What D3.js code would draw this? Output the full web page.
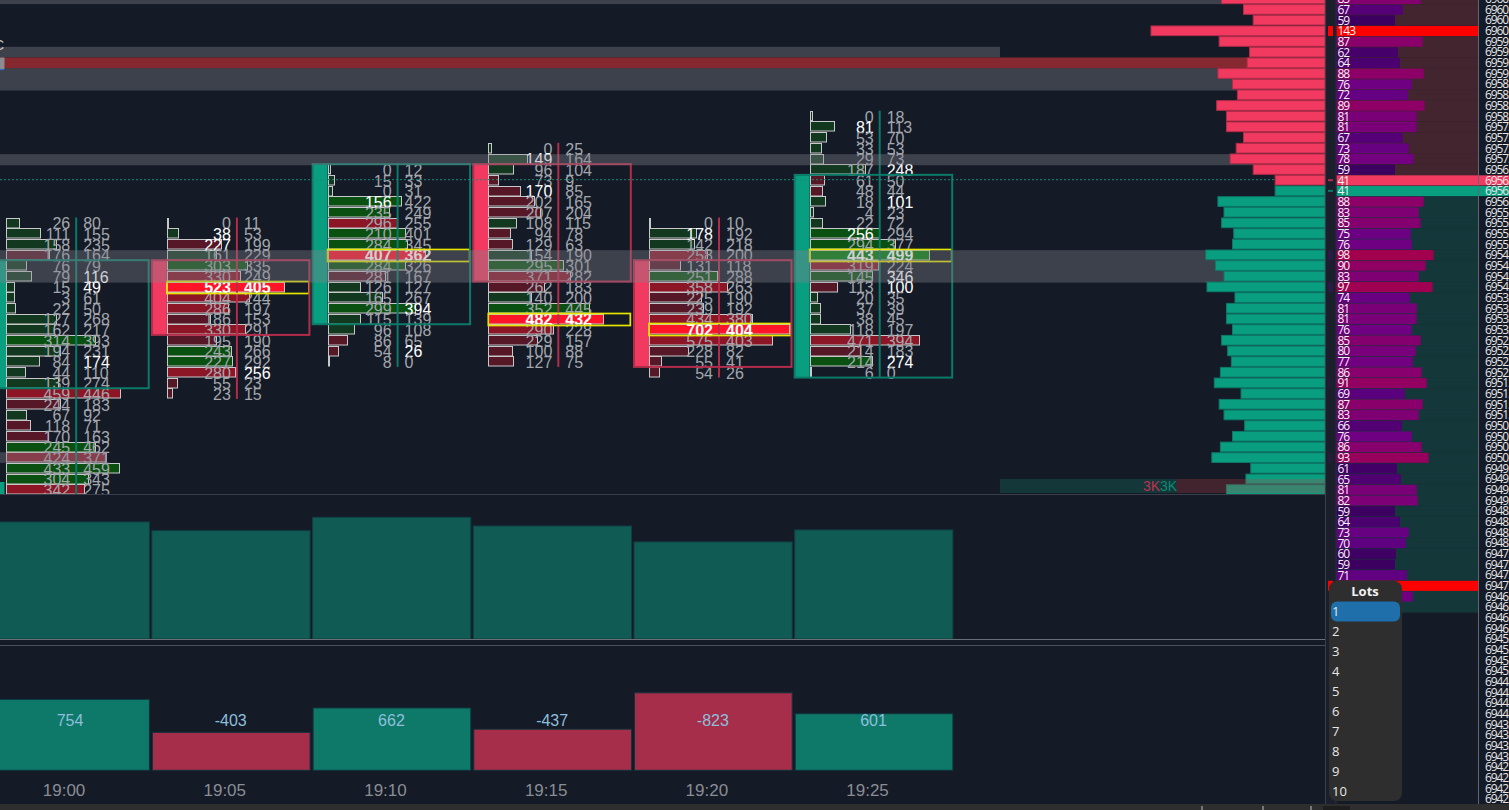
<!DOCTYPE html>
<html>
<head>
<meta charset="utf-8">
<script src="https://cdn.jsdelivr.net/npm/d3@7"></script>
<style>
  html, body { margin: 0; padding: 0; background: #141a26; overflow: hidden; }
  svg { display: block; }
  text { font-family: "Liberation Sans", Arial, sans-serif; }
  .side text { font-family: "Open Sans", sans-serif; }
</style>
</head>
<body>
<svg id="chart" width="1509" height="810"></svg>
<script>
const times = ['19:00', '19:05', '19:10', '19:15', '19:20', '19:25'];
const topPrice = [6955.5, 6955.5, 6956.75, 6957.25, 6955.5, 6958];
const bodyHigh = [6954.5, 6954.5, 6956.75, 6956.75, 6954.5, 6956.5];
const bodyLow = [6951.75, 6953, 6953.25, 6954.25, 6952.25, 6952];
const isUp = [true, false, true, false, false, true];
const pocPrice = [null, 6954, 6954.75, 6953.25, 6953, 6954.75];

const bid1900 = [26, 111, 158, 176, 76, 79, 15, 3, 22, 127, 162, 314, 194, 84, 44, 139, 459, 244, 67, 118, 170, 245, 424, 433, 304, 342];
const ask1900 = [80, 155, 235, 164, 79, 116, 49, 61, 50, 268, 217, 393, 231, 174, 110, 274, 446, 183, 92, 71, 163, 462, 371, 459, 343, 275];
const bid1905 = [0, 38, 227, 161, 303, 330, 523, 404, 286, 186, 330, 195, 243, 227, 280, 55, 23];
const ask1905 = [11, 53, 199, 229, 335, 249, 405, 244, 197, 153, 291, 190, 266, 292, 256, 23, 15];
const bid1910 = [0, 15, 0, 156, 235, 296, 210, 284, 407, 284, 281, 126, 165, 299, 115, 96, 86, 54, 8];
const ask1910 = [12, 33, 31, 422, 249, 255, 401, 345, 362, 326, 167, 127, 267, 394, 139, 108, 65, 26, 0];
const bid1915 = [0, 149, 96, 73, 170, 202, 207, 108, 94, 129, 154, 295, 371, 262, 140, 352, 482, 290, 229, 100, 127];
const ask1915 = [25, 164, 104, 9, 85, 165, 204, 115, 78, 63, 190, 301, 282, 183, 200, 445, 432, 228, 157, 88, 75];
const bid1920 = [0, 178, 142, 258, 131, 251, 358, 225, 239, 434, 702, 575, 228, 55, 54];
const ask1920 = [10, 192, 218, 200, 118, 288, 263, 190, 192, 380, 404, 403, 82, 41, 26];
const bid1925 = [0, 81, 53, 33, 29, 187, 61, 48, 18, 4, 22, 256, 294, 443, 319, 145, 113, 20, 37, 38, 118, 471, 214, 214, 6];
const ask1925 = [18, 113, 70, 53, 73, 248, 50, 44, 101, 23, 72, 294, 377, 499, 224, 346, 100, 35, 39, 45, 197, 394, 183, 274, 0];
const bids = [bid1900, bid1905, bid1910, bid1915, bid1920, bid1925];
const asks = [ask1900, ask1905, ask1910, ask1915, ask1920, ask1925];

const volumes = [7800, 7220, 8110, 7530, 6470, 7270];
const deltas = [754, -403, 662, -437, -823, 601];

const profileTop = 6960.75;
const profile = [85, 67, 59, 143, 87, 62, 64, 88, 76, 72, 89, 81, 81, 67, 73, 78, 59, 41, 41, 88, 83, 85, 75, 76, 98, 90, 83, 97, 74, 81, 81, 76, 85, 80, 77, 86, 91, 69, 87, 83, 66, 76, 86, 93, 61, 65, 81, 82, 59, 64, 73, 70, 60, 59, 71, 143, 77, 60];
const lastAskPrice = 6956.5;
const lastBidPrice = 6956.25;

const levelHigh = [6961.5, 6959.625, 6959.375, 6959.125, 6957.11, 6954.86, 6950.125];
const levelLow = [6960.625, 6959.375, 6959.125, 6958.6, 6956.85, 6954.1, 6949.875];
const levelFill = ['grey', 'grey', 'red', 'grey', 'grey', 'grey', 'grey'];
const levelEnd = [1325, 1000, 1325, 1325, 1325, 1325, 107];

const lotSizes = ['1', '2', '3', '4', '5', '6', '7', '8', '9', '10'];

const BG = '#141a26';
const TEAL = '#0a9e80', TEAL_EDGE = '#0c7a68';
const PINK = '#f23a60', PINK_EDGE = '#b32c4a';
const CLUSTER_TEXT = '#a3a6ad';
const PANE_RIGHT = 1325, PANE_BOTTOM = 494;
const ROW_H = 10.67;
const IMBALANCE = 3;

const svg = d3.select('#chart');

const y = d3.scaleLinear().domain([6960, 6942]).range([30.8, 30.8 + 72 * ROW_H]);
const x = d3.scaleBand().domain(times).range([-9.3, 954.9]);
const clusterW = d3.scaleLinear().domain([0, 1106]).range([0, 139.5]);
const volY = d3.scaleLinear().domain([0, 8110]).range([639, 517.3]);
const deltaH = d3.scaleLinear().domain([0, 823]).range([0, 77.5]);
const profileW = d3.scaleLinear().domain([0, 143]).range([0, 174]);
const sideW = d3.scaleLinear().domain([0, 143]).range([0, 141.6]);
const sideColor = d3.scaleLinear()
  .domain([41, 59, 70, 76, 81, 88, 98, 143])
  .range(['#2a0048', '#3c0060', '#5e0080', '#6f0082', '#7a0078', '#8c0068', '#a2004f', '#ff0000']);
const tickColor = d3.scaleLinear().domain([87, 98, 143]).range(['#1a1f2b', '#2d1945', '#ff0000']);

const priceOf = i => profileTop - i * 0.25;
const isLast = i => priceOf(i) === lastAskPrice || priceOf(i) === lastBidPrice;
const sideBg = i => priceOf(i) > lastBidPrice ? '#42252f' : '#14373a';
const rowEdge = p => Math.round(y(p) - ROW_H / 2);

svg.append('rect').attr('width', 1509).attr('height', 810).attr('fill', BG);

svg.append('clipPath').attr('id', 'pane')
  .append('rect').attr('width', PANE_RIGHT).attr('height', PANE_BOTTOM);

const pane = svg.append('g').attr('clip-path', 'url(#pane)');

// candles
const cols = times.map((t, c) => ({
  t, c,
  base: x(t) + 15.5,
  rows: bids[c].map((b, i) => ({
    bid: b,
    ask: asks[c][i],
    price: topPrice[c] - i * 0.25,
    whiteBid: i > 0 && b >= IMBALANCE * asks[c][i - 1] && b > 0,
    whiteAsk: i < bids[c].length - 1 && bids[c][i + 1] > 0 && asks[c][i] >= IMBALANCE * bids[c][i + 1]
  }))
}));

function barFill(r, col) {
  const total = r.bid + r.ask, up = r.ask > r.bid;
  if (r.price === pocPrice[col.c]) return up ? '#007f05' : '#ff1428';
  if (up) return total >= 450 ? '#0a5010' : '#12391f';
  return total >= 450 ? '#8c1526' : '#561727';
}

const col = pane.selectAll('g.col').data(cols).enter().append('g').attr('class', 'col');

col.append('rect')
  .attr('x', d => x(d.t))
  .attr('width', d => d.base - x(d.t))
  .attr('y', d => y(bodyHigh[d.c]) - ROW_H / 2)
  .attr('height', d => y(bodyLow[d.c]) - y(bodyHigh[d.c]) + ROW_H)
  .attr('fill', d => isUp[d.c] ? TEAL : PINK);

col.selectAll('rect.bar').data(d => d.rows.map(r => ({ ...r, col: d }))).enter().append('rect')
  .attr('class', 'bar')
  .attr('x', d => Math.round(d.col.base) + 0.5)
  .attr('y', d => rowEdge(d.price) + 0.5)
  .attr('width', d => Math.round(clusterW(d.bid + d.ask)))
  .attr('height', 9.5)
  .attr('fill', d => barFill(d, d.col))
  .attr('stroke', '#c8c8c8')
  .attr('stroke-width', 1);

// wick runs down the cluster between the two number columns
col.append('line')
  .attr('x1', d => d.base + 70).attr('x2', d => d.base + 70)
  .attr('y1', d => y(topPrice[d.c]) - ROW_H / 2)
  .attr('y2', d => y(d.rows[d.rows.length - 1].price) + ROW_H / 2)
  .attr('stroke', d => isUp[d.c] ? TEAL_EDGE : PINK_EDGE)
  .attr('stroke-width', 2);

const rowText = col.selectAll('g.row').data(d => d.rows.map(r => ({ ...r, col: d }))).enter().append('g').attr('class', 'row');
const isPoc = d => d.price === pocPrice[d.col.c];

rowText.append('text')
  .attr('x', d => d.col.base + 64)
  .attr('y', d => y(d.price))
  .attr('dy', '0.4em')
  .attr('text-anchor', 'end')
  .attr('font-size', 16)
  .attr('font-weight', d => isPoc(d) ? 'bold' : 'normal')
  .attr('fill', d => isPoc(d) || d.whiteBid ? '#fff' : CLUSTER_TEXT)
  .text(d => d.bid);

rowText.append('text')
  .attr('x', d => d.col.base + 77)
  .attr('y', d => y(d.price))
  .attr('dy', '0.4em')
  .attr('font-size', 16)
  .attr('font-weight', d => isPoc(d) ? 'bold' : 'normal')
  .attr('fill', d => isPoc(d) || d.whiteAsk ? '#fff' : CLUSTER_TEXT)
  .text(d => d.ask);

col.filter(d => pocPrice[d.c] !== null).append('rect')
  .attr('x', d => d.base)
  .attr('y', d => rowEdge(pocPrice[d.c]) - 0.5)
  .attr('width', 142)
  .attr('height', 12)
  .attr('fill', 'none')
  .attr('stroke', '#e6e600')
  .attr('stroke-width', 1.7);

col.append('rect')
  .attr('x', d => x(d.t) + 0.5)
  .attr('y', d => y(bodyHigh[d.c]) - ROW_H / 2)
  .attr('width', 157.5)
  .attr('height', d => y(bodyLow[d.c]) - y(bodyHigh[d.c]) + ROW_H)
  .attr('fill', 'none')
  .attr('stroke', d => isUp[d.c] ? TEAL_EDGE : PINK_EDGE)
  .attr('stroke-width', 2);

// price levels lie over the candles but under the profile
const levels = pane.append('g');
levels.selectAll('rect').data(levelHigh).enter().append('rect')
  .attr('x', 0)
  .attr('y', d => y(d))
  .attr('width', (d, i) => levelEnd[i])
  .attr('height', (d, i) => y(levelLow[i]) - y(d))
  .attr('fill', (d, i) => levelFill[i] === 'red' ? '#86282f' : 'rgba(130,130,140,0.38)');

// profile on the right of the pane
pane.append('g').selectAll('rect').data(profile).enter().append('rect')
  .attr('x', d => PANE_RIGHT - profileW(d))
  .attr('y', (d, i) => y(priceOf(i)) - ROW_H / 2 + 0.5)
  .attr('width', d => profileW(d))
  .attr('height', ROW_H - 1)
  .attr('fill', (d, i) => priceOf(i) > lastBidPrice ? PINK : TEAL)
  .attr('stroke', (d, i) => priceOf(i) > lastBidPrice ? PINK_EDGE : TEAL_EDGE)
  .attr('stroke-width', 1);

pane.append('line')
  .attr('x1', 0).attr('x2', PANE_RIGHT - profileW(41))
  .attr('y1', y(lastAskPrice) - 0.5).attr('y2', y(lastAskPrice) - 0.5)
  .attr('stroke', '#1a8a78').attr('stroke-width', 1).attr('stroke-dasharray', '2 2');

// session totals strip at the foot of the pane
pane.append('rect').attr('x', 1000).attr('y', 479).attr('width', 176).attr('height', 14).attr('fill', '#14373a');
pane.append('rect').attr('x', 1176).attr('y', 479).attr('width', 149).attr('height', 14).attr('fill', 'rgba(190,67,71,0.27)');
pane.append('text').attr('x', 1160).attr('y', 491).attr('text-anchor', 'end').attr('font-size', 14).attr('fill', '#c0304c').text('3K');
pane.append('text').attr('x', 1160).attr('y', 491).attr('font-size', 14).attr('fill', '#0c8a74').text('3K');

// left edge leftovers
pane.append('rect').attr('x', 0).attr('y', 57.5).attr('width', 4.5).attr('height', 11.5).attr('fill', '#8a8c92');
pane.append('rect').attr('x', 0).attr('y', 69).attr('width', 4).attr('height', 1.2).attr('fill', '#3a62c0');
pane.append('text').attr('x', -6).attr('y', 50).attr('font-size', 14).attr('fill', '#cfcfcf').text('C');
pane.append('rect').attr('x', 0).attr('y', 482).attr('width', 4.5).attr('height', 12).attr('fill', TEAL);

// volume pane
svg.append('g').selectAll('rect').data(volumes).enter().append('rect')
  .attr('x', (d, i) => x(times[i]) + 0.5)
  .attr('y', d => volY(d))
  .attr('width', x.bandwidth() - 2.5)
  .attr('height', d => 639 - volY(d))
  .attr('fill', '#115b55')
  .attr('stroke', '#0f3f42')
  .attr('stroke-width', 1);

// delta pane
const deltaG = svg.append('g');
deltaG.selectAll('rect').data(deltas).enter().append('rect')
  .attr('x', (d, i) => x(times[i]) + 1)
  .attr('y', d => 770.3 - deltaH(Math.abs(d)))
  .attr('width', x.bandwidth() - 3)
  .attr('height', d => deltaH(Math.abs(d)))
  .attr('fill', d => d > 0 ? '#0e7968' : '#a62e4a')
  .attr('stroke', '#10343c')
  .attr('stroke-width', 1);
deltaG.selectAll('text').data(deltas).enter().append('text')
  .attr('x', (d, i) => x(times[i]) + x.bandwidth() / 2 - 1)
  .attr('y', 726)
  .attr('text-anchor', 'middle')
  .attr('font-size', 16)
  .attr('fill', '#8dbfdc')
  .text(d => d);

const timeAxis = d3.axisBottom(x).tickSize(0).tickPadding(4);
svg.append('g')
  .attr('transform', 'translate(-7,780)')
  .call(timeAxis)
  .call(g => g.select('.domain').remove())
  .call(g => g.selectAll('text').attr('font-size', 17).attr('fill', '#8a8d94').attr('font-family', '"Liberation Sans", sans-serif'));

// side ladder
const side = svg.append('g').attr('class', 'side');
const rowTop = i => y(priceOf(i)) - ROW_H / 2;

side.append('rect').attr('x', 1326).attr('y', 0).attr('width', 10).attr('height', 804).attr('fill', '#1a1f2b');
side.selectAll('rect.bg').data(profile).enter().append('rect')
  .attr('class', 'bg')
  .attr('x', 1336.5).attr('width', 141.5)
  .attr('y', (d, i) => rowTop(i)).attr('height', ROW_H + 0.3)
  .attr('fill', (d, i) => sideBg(i));

side.selectAll('rect.vol').data(profile).enter().append('rect')
  .attr('class', 'vol')
  .attr('x', 1336.5)
  .attr('y', (d, i) => rowTop(i) + 0.5)
  .attr('width', (d, i) => isLast(i) ? 173 : sideW(d))
  .attr('height', ROW_H - 0.6)
  .attr('fill', (d, i) => priceOf(i) === lastAskPrice ? PINK : priceOf(i) === lastBidPrice ? TEAL : sideColor(d));

side.selectAll('rect.mark').data(profile).enter().append('rect')
  .attr('class', 'mark')
  .attr('x', 1328).attr('width', 5)
  .attr('y', (d, i) => isLast(i) ? y(priceOf(i)) - 1 : rowTop(i) + 0.5)
  .attr('height', (d, i) => isLast(i) ? 2 : ROW_H - 0.6)
  .attr('fill', (d, i) => priceOf(i) === lastAskPrice ? PINK_EDGE : priceOf(i) === lastBidPrice ? TEAL_EDGE : tickColor(Math.max(d, 87)))
  .attr('opacity', (d, i) => d >= 88 || isLast(i) ? 1 : 0);

side.selectAll('text.vol').data(profile).enter().append('text')
  .attr('class', 'vol')
  .attr('x', 1337.5)
  .attr('y', (d, i) => y(priceOf(i)))
  .attr('dy', '0.38em')
  .attr('font-size', 12)
  .attr('letter-spacing', '-1px')
  .attr('fill', '#f2f2f2')
  .text(d => d);

const priceTicks = d3.range(profileTop, 6941.9, -0.25);
const priceAxis = d3.axisRight(y)
  .tickValues(priceTicks)
  .tickSize(0)
  .tickPadding(6)
  .tickFormat(d => Math.floor(d) + '.');
side.append('g')
  .attr('transform', 'translate(1479,0)')
  .call(priceAxis)
  .call(g => g.select('.domain').remove())
  .call(g => g.selectAll('text').attr('font-size', 12).attr('letter-spacing', '-1.1px').attr('fill', '#e6e6e6').attr('font-family', '"Open Sans", sans-serif'));

// separators
const seps = [[0, 494.5, PANE_RIGHT, 494.5, '#3a3e4a'], [0, 639.5, PANE_RIGHT, 639.5, '#6a7078'], [0, 645.5, PANE_RIGHT, 645.5, '#4a4e58'],
  [1325.5, 0, 1325.5, 804, '#3a3e4a'], [1336, 0, 1336, 804, '#2a2e3a'], [1478.5, 0, 1478.5, 804, '#5f6870']];
svg.append('g').selectAll('line').data(seps).enter().append('line')
  .attr('x1', d => d[0]).attr('y1', d => d[1]).attr('x2', d => d[2]).attr('y2', d => d[3])
  .attr('stroke', d => d[4]).attr('stroke-width', 1);

// bottom scroll strip
svg.append('rect').attr('y', 804).attr('width', 1509).attr('height', 6).attr('fill', '#2e2e2e');
svg.append('rect').attr('x', 1323).attr('y', 806).attr('width', 27).attr('height', 4).attr('fill', '#1e1e1e');
svg.append('g').selectAll('line').data([1202, 1263, 1311]).enter().append('line')
  .attr('x1', d => d).attr('x2', d => d).attr('y1', 806).attr('y2', 810).attr('stroke', '#c0c0c0');

// lots popup
const lots = svg.append('g').attr('class', 'side');
lots.append('rect').attr('x', 1329).attr('y', 581).attr('width', 73).attr('height', 220).attr('rx', 8).attr('fill', '#2e2e2e');
lots.append('rect').attr('x', 1331).attr('y', 601.5).attr('width', 69).attr('height', 20).attr('rx', 6).attr('fill', '#1f6faa');
lots.append('text').attr('x', 1365).attr('y', 596).attr('text-anchor', 'middle').attr('font-size', 13).attr('font-weight', 'bold').attr('fill', '#f2f2f2').text('Lots');
lots.selectAll('text.lot').data(lotSizes).enter().append('text')
  .attr('class', 'lot')
  .attr('x', 1332)
  .attr('y', (d, i) => 616 + i * 20)
  .attr('font-size', 13)
  .attr('fill', '#e8e8e8')
  .text(d => d);
</script>
</body>
</html>
